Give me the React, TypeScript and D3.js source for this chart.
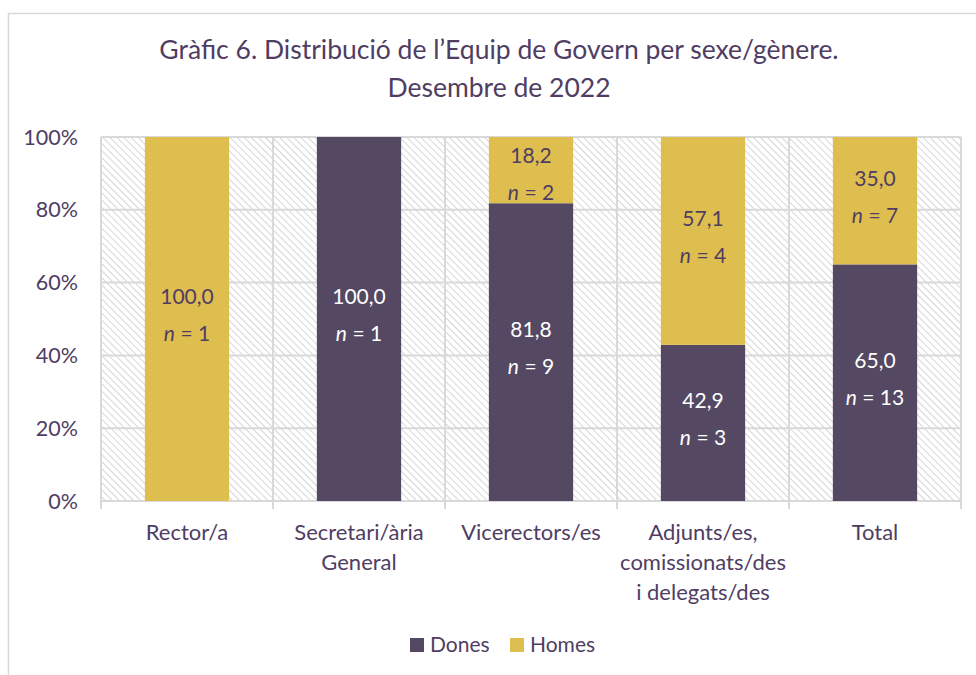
import React from "react";
import * as d3 from "d3";

const categories: string[][] = [
  ["Rector/a"],
  ["Secretari/ària", "General"],
  ["Vicerectors/es"],
  ["Adjunts/es,", "comissionats/des", "i delegats/des"],
  ["Total"],
];
const donesPct = [0, 100, 81.8, 42.9, 65.0];
const homesPct = [100, 0, 18.2, 57.1, 35.0];
const donesN = [0, 1, 9, 3, 13];
const homesN = [1, 0, 2, 4, 7];
const yTicks = [0, 20, 40, 60, 80, 100];
const seriesNames = ["Dones", "Homes"];

const W = 976;
const H = 675;
const C_DONES = "#544863";
const C_HOMES = "#DFBE50";
const TXT = "#4F3D63";
const GRID = "#D9D9D9";
const FONT = "Lato, 'Open Sans', sans-serif";

export default function App() {
  const x = d3
    .scaleBand<number>()
    .domain(d3.range(categories.length))
    .range([101, 961])
    .paddingInner(0)
    .paddingOuter(0);
  const y = d3.scaleLinear().domain([0, 100]).range([501, 137]);
  const bw = x.bandwidth() * 0.49;
  const fmt = (v: number) => v.toFixed(1).replace(".", ",");
  const labelMid = (top: number, bottom: number) => Math.max((top + bottom) / 2, top + 41);

  return (
    <svg width={W} height={H} style={{ position: "absolute", left: 0, top: 0 }}>
      <defs>
        <pattern id="hatch" patternUnits="userSpaceOnUse" width="5" height="5" patternTransform="rotate(-45)">
          <rect width="5" height="5" fill="#ffffff" />
          <line x1="0" y1="0" x2="0" y2="5" stroke="#D6D6D6" strokeWidth="2" />
        </pattern>
      </defs>
      <rect x={0} y={0} width={W} height={H} fill="#fff" />
      <rect x={8.5} y={13.5} width={990} height={700} fill="none" stroke={GRID} strokeWidth={1.5} />
      <text x={499} y={59} textAnchor="middle" fontFamily={FONT} fontSize={26.5} fill={TXT}>
        Gràfic 6. Distribució de l’Equip de Govern per sexe/gènere.
      </text>
      <text x={499} y={97} textAnchor="middle" fontFamily={FONT} fontSize={26.5} fill={TXT}>
        Desembre de 2022
      </text>
      <rect x={101} y={137} width={860} height={364} fill="url(#hatch)" />
      {yTicks.map((t) => (
        <g key={t}>
          <line x1={101} x2={961} y1={y(t)} y2={y(t)} stroke={GRID} strokeWidth={2} />
          <text x={78} y={y(t) + 7.5} textAnchor="end" fontFamily={FONT} fontSize={21.5} fill={TXT}>
            {t}%
          </text>
        </g>
      ))}
      {d3.range(categories.length + 1).map((i) => {
        const xx = i < categories.length ? (x(i) as number) : 961;
        return <line key={i} x1={xx} x2={xx} y1={137} y2={509} stroke={GRID} strokeWidth={2} />;
      })}
      {categories.map((cat, i) => {
        const cx = (x(i) as number) + x.bandwidth() / 2;
        const d = donesPct[i];
        const h = homesPct[i];
        const dm = labelMid(y(d), y(0));
        const hm = labelMid(y(d + h), y(d));
        return (
          <g key={i}>
            {d > 0 && (
              <rect x={cx - bw / 2} y={y(d)} width={bw} height={y(0) - y(d)} fill={C_DONES} />
            )}
            {h > 0 && (
              <rect x={cx - bw / 2} y={y(d + h)} width={bw} height={y(d) - y(d + h)} fill={C_HOMES} />
            )}
            {d > 0 && (
              <g fontFamily={FONT} fontSize={21} fill="#ffffff" textAnchor="middle">
                <text x={cx} y={dm - 15}>{fmt(d)}</text>
                <text x={cx} y={dm + 22}>
                  <tspan fontStyle="italic">n</tspan> = {donesN[i]}
                </text>
              </g>
            )}
            {h > 0 && (
              <g fontFamily={FONT} fontSize={21} fill={TXT} textAnchor="middle">
                <text x={cx} y={hm - 15}>{fmt(h)}</text>
                <text x={cx} y={hm + 22}>
                  <tspan fontStyle="italic">n</tspan> = {homesN[i]}
                </text>
              </g>
            )}
            {cat.map((line, j) => (
              <text key={j} x={cx} y={540 + j * 30} textAnchor="middle" fontFamily={FONT} fontSize={22} fill={TXT}>
                {line}
              </text>
            ))}
          </g>
        );
      })}
      {seriesNames.map((s, i) => {
        const lx = i === 0 ? 410 : 510;
        return (
          <g key={s}>
            <rect x={lx} y={638} width={14} height={14} fill={i === 0 ? C_DONES : C_HOMES} />
            <text x={lx + 20} y={652} fontFamily={FONT} fontSize={21} fill={TXT}>
              {s}
            </text>
          </g>
        );
      })}
    </svg>
  );
}
